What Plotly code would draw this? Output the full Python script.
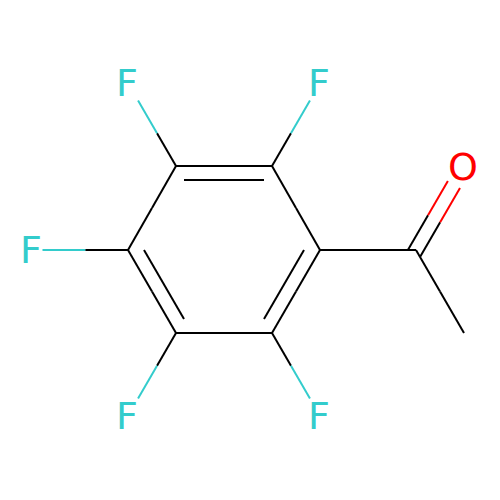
import plotly.graph_objects as go

# atom positions
atom_names = ['C', 'C', 'C', 'C', 'C', 'C', 'C', 'C', 'O', 'F', 'F', 'F', 'F', 'F']
atom_x = [320, 272, 176, 128, 176, 272, 416, 464, 464, 320, 128, 32, 128, 320]
atom_y = [250, 166, 166, 250, 333, 333, 250, 333, 167, 83, 83, 250, 416, 416]

single_bonds = [(1, 0), (2, 3), (4, 5), (0, 6), (6, 7), (1, 9), (2, 10), (3, 11), (4, 12), (5, 13)]
ring_double_bonds = [(1, 2), (3, 4), (5, 0)]
outer_double_bonds = [(6, 8)]

colors = {'C': '#000000', 'O': '#FF0000', 'F': '#33CCCC'}

center_x = sum(atom_x[:6]) / 6
center_y = sum(atom_y[:6]) / 6

segs = {c: ([], []) for c in colors.values()}


def add_seg(color, x0, y0, x1, y1):
    segs[color][0].extend([x0, x1, None])
    segs[color][1].extend([y0, y1, None])


def clip(x0, y0, x1, y1):
    # stop the bond at the box round the label
    dx, dy = x1 - x0, y1 - y0
    t = min(10.5 / abs(dx) if dx else 1, 17.4 / abs(dy) if dy else 1)
    return x1 - dx * t, y1 - dy * t


def add_bond(a, b, x0, y0, x1, y1):
    # two colours, split at the middle of the visible part
    if atom_names[b] != 'C':
        x1, y1 = clip(x0, y0, x1, y1)
    mx, my = (x0 + x1) / 2, (y0 + y1) / 2
    add_seg(colors[atom_names[a]], x0, y0, mx, my)
    add_seg(colors[atom_names[b]], mx, my, x1, y1)


for a, b in single_bonds + ring_double_bonds:
    add_bond(a, b, atom_x[a], atom_y[a], atom_x[b], atom_y[b])

# inner line of the ring double bonds
for a, b in ring_double_bonds:
    add_seg('#000000',
            atom_x[a] + (center_x - atom_x[a]) / 6, atom_y[a] + (center_y - atom_y[a]) / 6,
            atom_x[b] + (center_x - atom_x[b]) / 6, atom_y[b] + (center_y - atom_y[b]) / 6)

# C=O is two parallel lines
for a, b in outer_double_bonds:
    dx, dy = atom_x[b] - atom_x[a], atom_y[b] - atom_y[a]
    length = (dx ** 2 + dy ** 2) ** 0.5
    ux, uy = dx / length, dy / length
    ex, ey = clip(atom_x[a], atom_y[a], atom_x[b], atom_y[b])
    for side in (-1, 1):
        ox, oy = -uy * 7 * side, ux * 7 * side
        sx, sy = atom_x[a] + ox - ux * 3.5, atom_y[a] + oy - uy * 3.5
        mx, my = (sx + ex + ox) / 2, (sy + ey + oy) / 2
        add_seg(colors[atom_names[a]], sx, sy, mx, my)
        add_seg(colors[atom_names[b]], mx, my, ex + ox, ey + oy)

fig = go.Figure()

for color, (xs, ys) in segs.items():
    fig.add_trace(go.Scatter(x=xs, y=ys, mode='lines', hoverinfo='skip',
                             line=dict(color=color, width=2)))

# plotly sets 'middle center' text a bit high and right, so nudge it
label_idx = [i for i, n in enumerate(atom_names) if n != 'C']
fig.add_trace(go.Scatter(
    x=[atom_x[i] - 1 for i in label_idx],
    y=[atom_y[i] + 3.5 for i in label_idx],
    text=[atom_names[i] for i in label_idx],
    mode='text',
    textposition='middle center',
    textfont=dict(family='DejaVu Sans', size=38, color=[colors[atom_names[i]] for i in label_idx]),
    hoverinfo='skip',
))

fig.update_layout(
    width=500, height=500,
    margin=dict(l=0, r=0, t=0, b=0),
    showlegend=False,
    plot_bgcolor='white',
    paper_bgcolor='white',
    xaxis=dict(range=[0, 500], visible=False),
    yaxis=dict(range=[500, 0], visible=False),
)

# browser default body margin would push the plot 8px off
fig.write_html("out.html", config=dict(displayModeBar=False),
               post_script="document.body.style.margin = '0';")
